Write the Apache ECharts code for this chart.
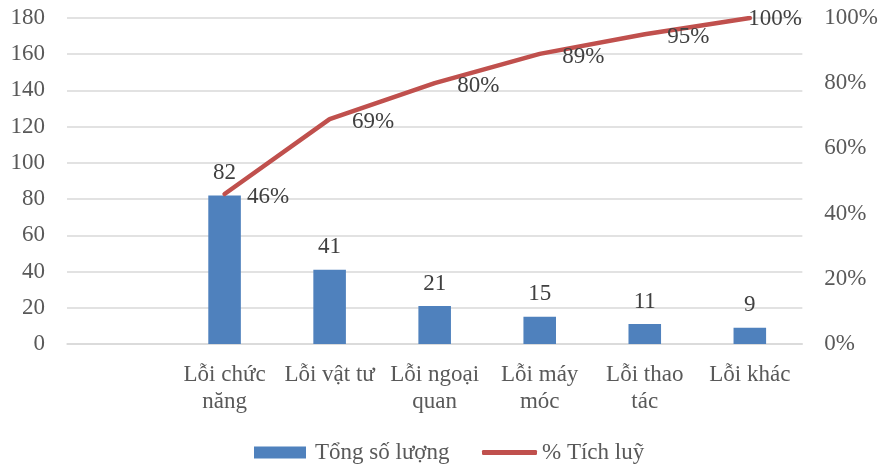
<!DOCTYPE html>
<html>
<head>
<meta charset="utf-8">
<script src="https://cdn.jsdelivr.net/npm/echarts@6/dist/echarts.min.js"></script>
<style>
  html, body { margin: 0; padding: 0; background: #ffffff; }
  #chart { width: 881px; height: 468px; }
</style>
</head>
<body>
<div id="chart"></div>
<script>
// Pareto chart of defect types: counts (bars) and cumulative share (line)
const categories = ['', 'Lỗi chức\nnăng', 'Lỗi vật tư', 'Lỗi ngoại\nquan', 'Lỗi máy\nmóc', 'Lỗi thao\ntác', 'Lỗi khác'];
const counts = ['-', 82, 41, 21, 15, 11, 9];
const cumulativePct = ['-', 46, 69, 80, 89, 95, 100];

const barName = 'Tổng số lượng';
const lineName = '% Tích luỹ';

const FONT = '"Liberation Serif", "Times New Roman", serif';
const FS = 23;
const TEXT = '#595959';
const LABEL = '#404040';
const GRIDLINE = '#D9D9D9';
const BAR = '#4F81BD';
const LINE = '#C0504D';

const lineData = cumulativePct.map((v, i) => {
  if (i === cumulativePct.length - 1) {
    return { value: v, label: { position: 'right', distance: -2, offset: [0, 1] } };
  }
  return v;
});

const chart = echarts.init(document.getElementById('chart'), null, { renderer: 'canvas' });
chart.setOption({
  animation: false,
  textStyle: { fontFamily: FONT },
  grid: { left: 67, right: 76, top: 18, bottom: 124 },
  legend: [
    {
      data: [{ name: barName, icon: 'rect' }],
      left: 254, top: 441, padding: 0,
      itemWidth: 52, itemHeight: 12, itemGap: 6,
      textStyle: { fontFamily: FONT, fontSize: FS, color: TEXT, padding: [0, 0, 0, 4] }
    },
    {
      data: [{ name: lineName, icon: 'roundRect' }],
      left: 482, top: 441, padding: 0,
      itemWidth: 55, itemHeight: 5, itemGap: 4,
      textStyle: { fontFamily: FONT, fontSize: FS, color: TEXT }
    }
  ],
  xAxis: {
    type: 'category',
    data: categories,
    boundaryGap: true,
    axisTick: { show: false },
    axisLine: { show: true, lineStyle: { color: GRIDLINE, width: 1.5 } },
    axisLabel: {
      interval: 0, margin: 17, color: TEXT,
      fontFamily: FONT, fontSize: FS, lineHeight: 27, align: 'center'
    }
  },
  yAxis: [
    {
      type: 'value', min: 0, max: 180, interval: 20,
      axisLine: { show: false }, axisTick: { show: false },
      splitLine: { lineStyle: { color: GRIDLINE, width: 1.5 } },
      axisLabel: { margin: 22, color: TEXT, fontFamily: FONT, fontSize: FS }
    },
    {
      type: 'value', min: 0, max: 100, interval: 20,
      axisLine: { show: false }, axisTick: { show: false },
      splitLine: { show: false },
      axisLabel: { margin: 22, color: TEXT, fontFamily: FONT, fontSize: FS, formatter: '{value}%' }
    }
  ],
  series: [
    {
      name: barName,
      type: 'bar',
      data: counts,
      barWidth: '31%',
      itemStyle: { color: BAR },
      label: {
        show: true, position: 'top', distance: 11,
        color: LABEL, fontFamily: FONT, fontSize: FS
      }
    },
    {
      name: lineName,
      type: 'line',
      yAxisIndex: 1,
      data: lineData,
      symbol: 'circle',
      symbolSize: 1,
      itemStyle: { color: LINE },
      lineStyle: { color: LINE, width: 4.5, cap: 'round', join: 'round' },
      label: {
        show: true, position: 'right', distance: 22, offset: [0, 3],
        color: LABEL, fontFamily: FONT, fontSize: FS,
        formatter: '{c}%'
      }
    }
  ]
});
</script>
</body>
</html>
